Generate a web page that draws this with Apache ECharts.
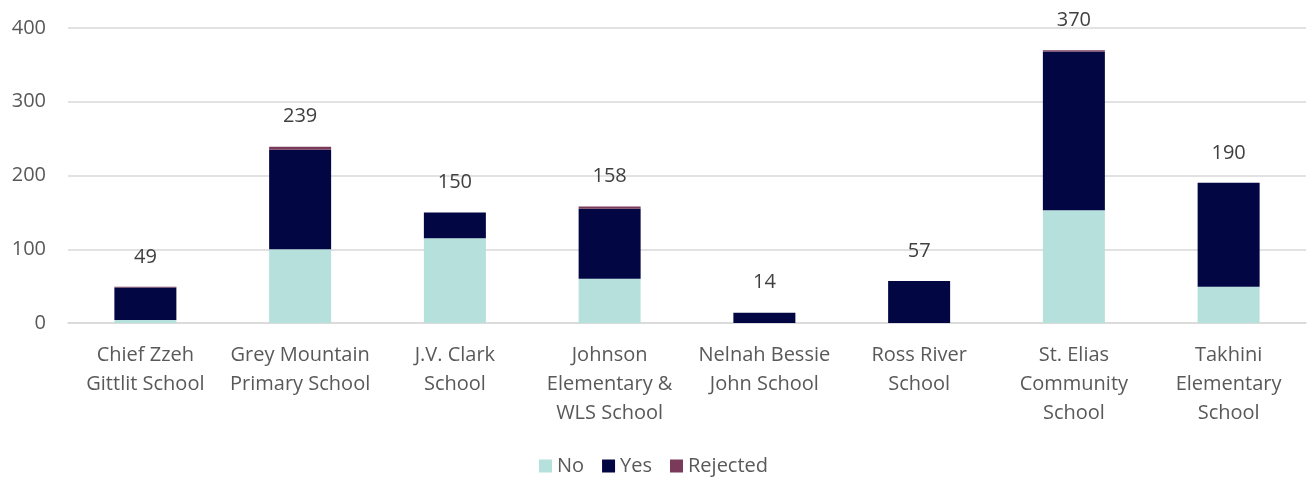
<!DOCTYPE html>
<html><head><meta charset="utf-8">
<script src="https://cdn.jsdelivr.net/npm/echarts@6/dist/echarts.min.js"></script>
<style>html,body{margin:0;padding:0;background:#fff}#c{width:1307px;height:478px}</style>
</head><body><div id="c"></div>
<script>
const categories = ["Chief Zzeh\nGittlit School","Grey Mountain\nPrimary School","J.V. Clark\nSchool","Johnson\nElementary &\nWLS School","Nelnah Bessie\nJohn School","Ross River\nSchool","St. Elias\nCommunity\nSchool","Takhini\nElementary\nSchool"];
const noValues = [4, 100, 115, 60, 0, 0, 153, 49];
const yesValues = [44, 135, 35, 95, 14, 57, 215, 141];
const rejectedValues = [1, 4, 0, 3, 0, 0, 2, 0];
const totals = [49, 239, 150, 158, 14, 57, 370, 190];
const yTicks = [0, 100, 200, 300, 400];

const font = "'Open Sans', 'Noto Sans', sans-serif";
const chart = echarts.init(document.getElementById('c'));
chart.setOption({
  animation: false,
  grid: {left: 68, right: 1, top: 28, bottom: 155},
  legend: {
    top: 456, left: 'center', itemWidth: 13, itemHeight: 13, itemGap: 18, padding: 0,
    icon: 'rect',
    textStyle: {color: '#595959', fontSize: 20, fontFamily: font},
    data: ['No', 'Yes', 'Rejected']
  },
  xAxis: {
    type: 'category', data: categories,
    axisLine: {lineStyle: {color: '#d9d9d9', width: 1.5}},
    axisTick: {show: false},
    axisLabel: {color: '#595959', fontSize: 20, fontFamily: font, lineHeight: 29, margin: 18, interval: 0}
  },
  yAxis: {
    type: 'value', min: yTicks[0], max: yTicks[yTicks.length - 1], interval: 100,
    axisLine: {show: false}, axisTick: {show: false},
    splitLine: {lineStyle: {color: '#d9d9d9', width: 1.5}},
    axisLabel: {color: '#595959', fontSize: 20, fontFamily: font, margin: 22}
  },
  series: [
    {name: 'No', type: 'bar', stack: 's', data: noValues, barWidth: 62, itemStyle: {color: '#b6e0dc'}},
    {name: 'Yes', type: 'bar', stack: 's', data: yesValues, itemStyle: {color: '#020643'}},
    {name: 'Rejected', type: 'bar', stack: 's', data: rejectedValues, itemStyle: {color: '#7a3b5a'},
      label: {show: true, position: 'top', distance: 20, color: '#404040', fontSize: 20, fontFamily: font,
        formatter: p => String(totals[p.dataIndex])}}
  ]
});
</script></body></html>
